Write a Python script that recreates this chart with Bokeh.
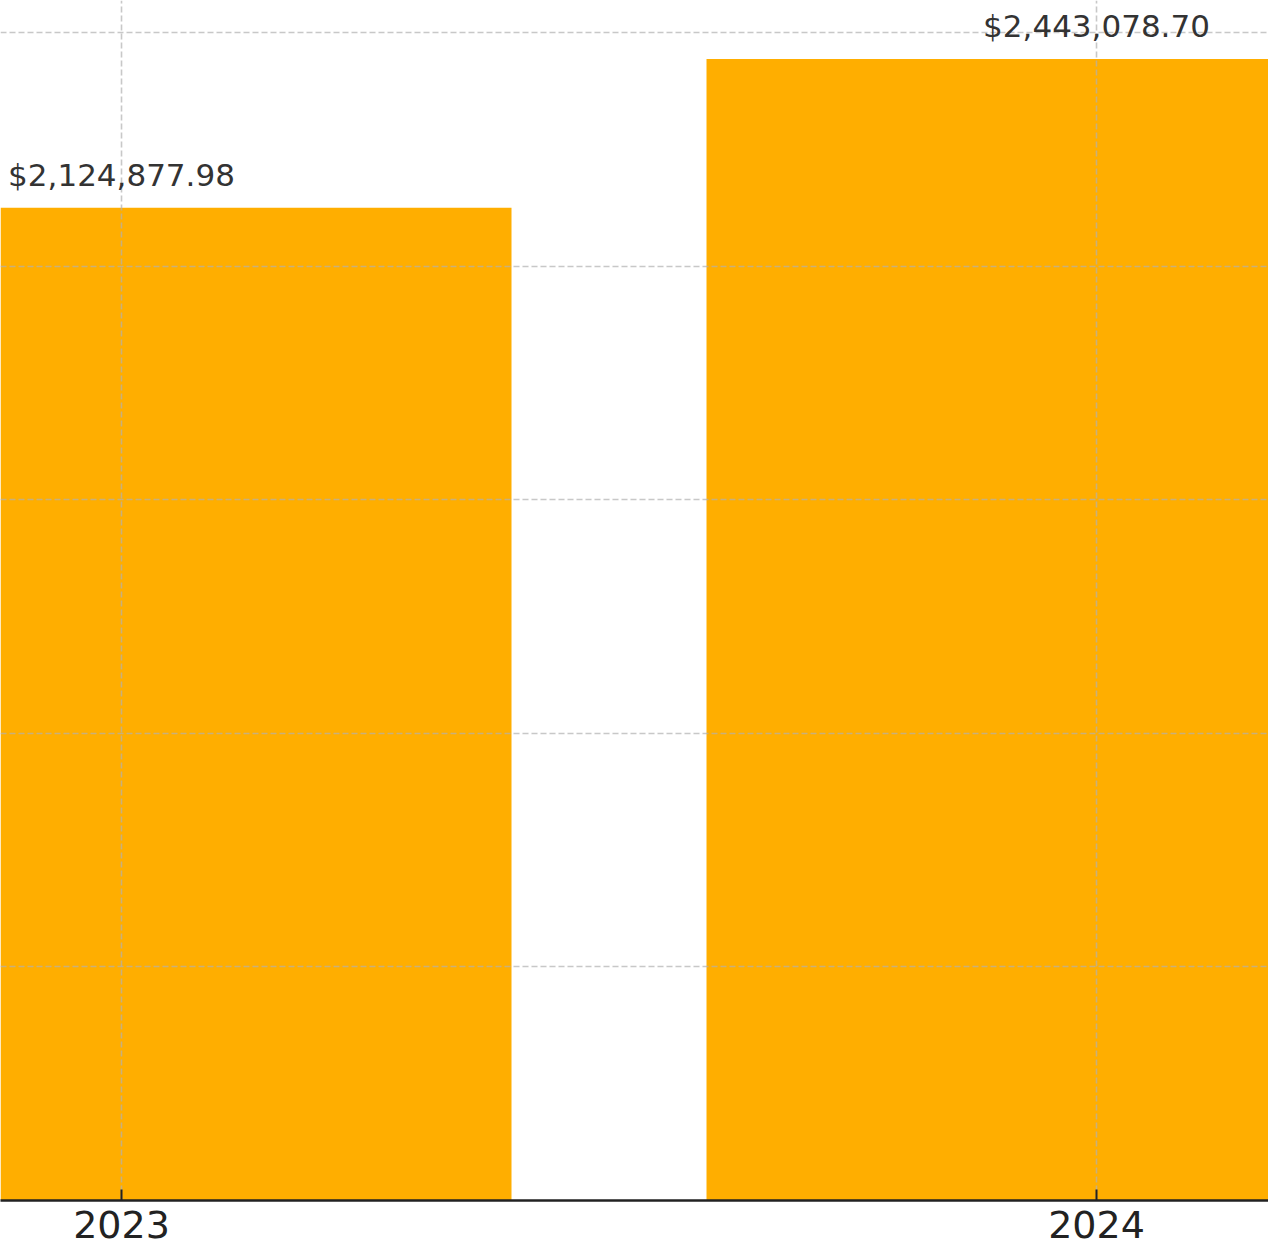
from bokeh.plotting import figure
from bokeh.models import Range1d, FixedTicker, ColumnDataSource, BasicTickFormatter
from bokeh.core.properties import value
from bokeh.embed import file_html
from bokeh.resources import INLINE

years = [2023, 2024]
revenue = [2124877.98, 2443078.70]
labels = [f"${v:,.2f}" for v in revenue]
y_ticks = [0, 500000, 1000000, 1500000, 2000000, 2500000]

src = ColumnDataSource(dict(year=years, revenue=revenue, label=labels))

p = figure(frame_width=1268, frame_height=1200, output_backend="svg",
           toolbar_location=None, min_border=0,
           x_range=Range1d(2022.8759, 2024.1764),
           y_range=Range1d(0, 2568500))
p.outline_line_color = None
p.background_fill_color = "white"
p.border_fill_color = "white"

bars = p.vbar(x="year", top="revenue", width=0.8, bottom=0, source=src,
              fill_color="#FFAE00", line_color=None)
bars.level = "image"

p.text(x="year", y="revenue", text="label", source=src,
       text_align="center", text_baseline="alphabetic", y_offset=-33,
       text_font=value("DejaVu Sans"), text_font_size="31px",
       text_color="#333333")

p.yaxis.visible = False
p.ygrid.ticker = FixedTicker(ticks=y_ticks)
p.xaxis.ticker = FixedTicker(ticks=years)
p.xgrid.ticker = FixedTicker(ticks=years)
p.xaxis.formatter = BasicTickFormatter(use_scientific=False)

for g in (p.xgrid, p.ygrid):
    g.grid_line_color = "#b0b0b0"
    g.grid_line_alpha = 0.7
    g.grid_line_width = 1.6
    g.grid_line_dash = "6 3"

ax = p.xaxis
ax.axis_line_color = "#222222"
ax.axis_line_width = 2.5
ax.major_tick_in = 11
ax.major_tick_out = 0
ax.major_tick_line_color = "#222222"
ax.major_tick_line_width = 2
ax.minor_tick_line_color = None
ax.major_label_text_font = "DejaVu Sans"
ax.major_label_text_font_size = "38px"
ax.major_label_text_color = "#222222"
ax.major_label_standoff = 10

open("out.html", "w").write(file_html(p, INLINE))
